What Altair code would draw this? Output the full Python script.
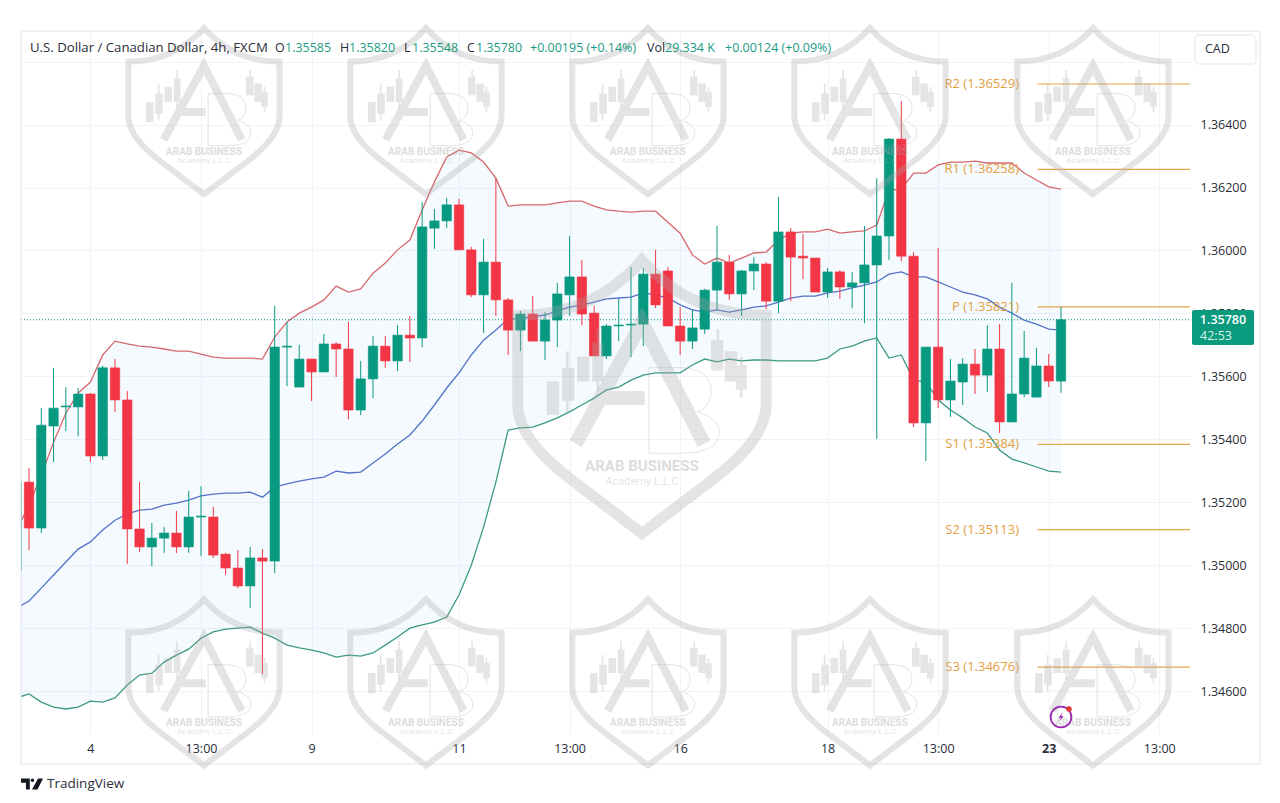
import altair as alt
import pandas as pd

times = list(range(-1, 85))
highs = [1.35264,
1.35309,1.35499,1.35627,1.35566,1.35563,1.35547,1.35633,1.35655,1.35553,1.35264,
1.35134,1.35121,1.35172,1.35236,1.35251,1.35185,1.35039,1.35048,1.35058,1.35051,
1.35824,1.35773,1.35700,1.35655,1.35735,1.35709,1.35773,1.35649,1.35728,1.35728,
1.35763,1.35792,1.36154,1.36132,1.36167,1.36164,1.36011,1.36037,1.36230,1.35849,
1.35808,1.35855,1.35804,1.35897,1.36046,1.35970,1.35824,1.35766,1.35846,1.35947,
1.35944,1.36002,1.35947,1.35820,1.35811,1.35878,1.36078,1.35986,1.35938,1.35979,
1.35963,1.36170,1.36071,1.36052,1.35976,1.35944,1.35938,1.35932,1.36078,1.36230,
1.36357,1.36475,1.35995,1.35693,1.36008,1.35655,1.35658,1.35687,1.35763,1.35766,
1.35897,1.35744,1.35690,1.35671,1.35820]
lows = [1.34984,
1.35048,1.35102,1.35328,1.35426,1.35410,1.35328,1.35334,1.35487,1.35004,1.35042,
1.34997,1.35039,1.35039,1.35039,1.35029,1.35023,1.34969,1.34927,1.34864,1.34654,
1.34975,1.35569,1.35566,1.35522,1.35614,1.35598,1.35464,1.35477,1.35531,1.35627,
1.35617,1.35646,1.35693,1.36005,1.36071,1.36002,1.35852,1.35738,1.35792,1.35668,
1.35680,1.35712,1.35652,1.35693,1.35792,1.35763,1.35665,1.35655,1.35712,1.35661,
1.35696,1.35817,1.35760,1.35668,1.35687,1.35735,1.35811,1.35843,1.35792,1.35874,
1.35814,1.35801,1.35839,1.35909,1.35868,1.35849,1.35846,1.35817,1.35769,1.35401,
1.35970,1.35966,1.35439,1.35331,1.35499,1.35471,1.35509,1.35544,1.35550,1.35420,
1.35455,1.35534,1.35534,1.35566,1.35548]
opens = [1.34984,
1.35264,1.35118,1.35442,1.35503,1.35503,1.35544,1.35347,1.35627,1.35525,1.35115,
1.35058,1.35086,1.35102,1.35058,1.35153,1.35153,1.35035,1.34991,1.34934,1.35023,
1.35013,1.35693,1.35566,1.35655,1.35614,1.35703,1.35687,1.35493,1.35592,1.35696,
1.35649,1.35731,1.35722,1.36071,1.36094,1.36145,1.36002,1.35859,1.35963,1.35843,
1.35747,1.35798,1.35712,1.35779,1.35859,1.35916,1.35801,1.35665,1.35760,1.35763,
1.35766,1.35925,1.35935,1.35760,1.35712,1.35750,1.35874,1.35963,1.35862,1.35935,
1.35957,1.35839,1.36059,1.35982,1.35976,1.35868,1.35932,1.35884,1.35897,1.35954,
1.36046,1.36354,1.35982,1.35452,1.35693,1.35525,1.35582,1.35639,1.35604,1.35687,
1.35455,1.35544,1.35534,1.35633,1.35585]
closes = [1.35264,
1.35118,1.35445,1.35499,1.35506,1.35544,1.35347,1.35627,1.35525,1.35115,1.35058,
1.35086,1.35102,1.35058,1.35153,1.35156,1.35032,1.34991,1.34934,1.35023,1.35013,
1.35693,1.35696,1.35655,1.35614,1.35703,1.35687,1.35493,1.35592,1.35696,1.35649,
1.35731,1.35722,1.36075,1.36094,1.36145,1.36002,1.35859,1.35963,1.35843,1.35747,
1.35798,1.35712,1.35779,1.35862,1.35916,1.35798,1.35665,1.35760,1.35763,1.35766,
1.35925,1.35827,1.35760,1.35712,1.35754,1.35874,1.35963,1.35862,1.35935,1.35957,
1.35839,1.36059,1.35979,1.35976,1.35868,1.35932,1.35884,1.35897,1.35954,1.36046,
1.36354,1.35982,1.35452,1.35693,1.35525,1.35585,1.35639,1.35604,1.35687,1.35455,
1.35544,1.35658,1.35633,1.35585,1.35780]
upper = [1.35112,
1.35191,1.35286,1.35391,1.35483,1.35547,1.35582,1.35668,1.35712,1.35703,1.35696,
1.35693,1.35687,1.35680,1.35680,1.35671,1.35661,1.35658,1.35658,1.35658,1.35655,
1.35725,1.35773,1.35801,1.35820,1.35843,1.35887,1.35868,1.35878,1.35928,1.35960,
1.36002,1.36033,1.36129,1.36218,1.36297,1.36319,1.36310,1.36281,1.36230,1.36141,
1.36145,1.36145,1.36145,1.36151,1.36157,1.36157,1.36141,1.36129,1.36125,1.36122,
1.36125,1.36125,1.36090,1.36055,1.35986,1.35957,1.35976,1.35960,1.35976,1.35992,
1.35995,1.36033,1.36055,1.36059,1.36059,1.36068,1.36055,1.36059,1.36062,1.36081,
1.36192,1.36195,1.36246,1.36246,1.36272,1.36281,1.36281,1.36284,1.36278,1.36278,
1.36278,1.36246,1.36224,1.36202,1.36195]
basis = [1.34864,
1.34886,1.34927,1.34969,1.35010,1.35051,1.35074,1.35112,1.35143,1.35163,1.35175,
1.35178,1.35191,1.35197,1.35207,1.35220,1.35226,1.35229,1.35229,1.35232,1.35216,
1.35248,1.35258,1.35267,1.35274,1.35280,1.35299,1.35293,1.35296,1.35325,1.35353,
1.35385,1.35414,1.35458,1.35509,1.35563,1.35611,1.35668,1.35715,1.35747,1.35782,
1.35785,1.35789,1.35795,1.35808,1.35820,1.35827,1.35836,1.35846,1.35849,1.35852,
1.35865,1.35859,1.35849,1.35827,1.35811,1.35804,1.35811,1.35804,1.35811,1.35820,
1.35824,1.35836,1.35849,1.35855,1.35855,1.35865,1.35871,1.35881,1.35890,1.35900,
1.35925,1.35932,1.35916,1.35916,1.35900,1.35884,1.35868,1.35859,1.35846,1.35820,
1.35801,1.35779,1.35766,1.35750,1.35747]
lower = [1.34578,
1.34591,1.34565,1.34549,1.34543,1.34549,1.34568,1.34565,1.34578,1.34619,1.34651,
1.34657,1.34692,1.34714,1.34733,1.34768,1.34788,1.34797,1.34800,1.34803,1.34784,
1.34768,1.34746,1.34737,1.34730,1.34721,1.34708,1.34714,1.34711,1.34721,1.34746,
1.34772,1.34800,1.34810,1.34819,1.34835,1.34905,1.35000,1.35121,1.35264,1.35429,
1.35436,1.35439,1.35452,1.35468,1.35487,1.35509,1.35531,1.35557,1.35566,1.35588,
1.35604,1.35611,1.35611,1.35611,1.35636,1.35655,1.35646,1.35655,1.35649,1.35652,
1.35652,1.35649,1.35649,1.35649,1.35649,1.35658,1.35687,1.35696,1.35712,1.35722,
1.35658,1.35668,1.35588,1.35582,1.35525,1.35493,1.35468,1.35439,1.35420,1.35366,
1.35337,1.35325,1.35312,1.35299,1.35296]

pivot_names = ["R2", "R1", "P", "S1", "S2", "S3"]
pivot_values = [1.36529, 1.36258, 1.35821, 1.35384, 1.35113, 1.34676]
pivot_from = 82.1
pivot_to = 94.5
pivot_label_at = 80.58
last_price = 1.35780

time_ticks = [5, 14, 23, 35, 44, 53, 65, 74, 83, 92]
time_labels = ["4", "13:00", "9", "11", "13:00", "16", "18", "13:00", "23", "13:00"]
price_ticks = [1.346, 1.348, 1.350, 1.352, 1.354, 1.356, 1.358, 1.360, 1.362, 1.364, 1.366]

header_texts = ["U.S. Dollar / Canadian Dollar, 4h, FXCM", "O", "1.35585", "H", "1.35820", "L",
                "1.35548", "C", "1.35780", "+0.00195 (+0.14%)", "Vol", "29.334 K", "+0.00124 (+0.09%)"]
header_lefts = [30, 275, 285, 340, 349, 404, 412, 467, 476, 530, 647, 665, 725]
header_colors = ["d", "d", "g", "d", "g", "d", "g", "d", "g", "g", "d", "g", "g"]

wm_t = [14.24, 32.31, 50.38, 68.45, 86.60, 14.24, 32.31, 50.38, 68.45, 86.60, 49.89]
wm_p = [1.36440] * 5 + [1.34625] * 5 + [1.35531]
wm_size = [28224] * 10 + [76176]
wm_shield_w = [6] * 10 + [11]
wm_a_w = [8] * 10 + [14]

W, H = 1170, 702
GREEN, RED = "#089981", "#f23645"
ORANGE = "#e5a03f"
FONT = "Open Sans"
DARK = "#2a2e39"

assert all(len(a) == len(times) for a in (highs, lows, opens, closes, upper, basis, lower))

candles = pd.DataFrame({"t": times, "open": opens, "close": closes, "high": highs, "low": lows})
candles["dir"] = ["up" if c >= o else "down" for o, c in zip(opens, closes)]
bands = pd.DataFrame({"t": times, "upper": upper, "basis": basis, "lower": lower})
pivots = pd.DataFrame({"name": pivot_names, "value": pivot_values})
pivots["label"] = [f"{n} ({v:.5f})" for n, v in zip(pivot_names, pivot_values)]
pivots["from"] = pivot_from
pivots["to"] = pivot_to
pivots["at"] = pivot_label_at
wm = pd.DataFrame({"t": wm_t, "p": wm_p, "size": wm_size, "sw": wm_shield_w, "aw": wm_a_w})
one = alt.Data(values=[{"a": 1}])

xs = alt.Scale(domain=[-0.651, 94.58], nice=False, zero=False, padding=0)
ys = alt.Scale(domain=[1.344667, 1.366975], nice=False, zero=False)
label_map = ",".join(f"'{k}':'{v}'" for k, v in zip(time_ticks, time_labels))
x_axis = alt.Axis(
    values=time_ticks, labelExpr="{" + label_map + "}['' + datum.value]",
    grid=True, gridColor="#f0f3fa", domain=False, ticks=False, labelPadding=9,
    labelFont=FONT, labelFontSize=12.5, labelColor=DARK, labelOverlap=False, labelFlush=False,
    labelFontWeight=alt.condition("datum.value == 83", alt.value("bold"), alt.value("normal")))
y_axis = alt.Axis(
    orient="right", values=price_ticks, grid=True, gridColor="#f0f3fa", domain=False, ticks=False,
    labelPadding=9, labelFont=FONT, labelFontSize=12.5, labelColor=DARK, labelOverlap=False,
    labelExpr="datum.value > 1.365 ? '' : format(datum.value, '.5f')")
X = lambda f: alt.X(f, scale=xs, axis=x_axis, title=None)
Y = lambda f: alt.Y(f, scale=ys, axis=y_axis, title=None)

band_fill = alt.Chart(bands).mark_area(color="#2196f3", opacity=0.05, clip=True).encode(
    x=X("t:Q"), y=Y("upper:Q"), y2="lower:Q")
band_lines = [alt.Chart(bands).mark_line(color=c, strokeWidth=1.3, clip=True).encode(x=X("t:Q"), y=Y(f"{f}:Q"))
              for f, c in [("upper", "#d5686e"), ("basis", "#5472c6"), ("lower", "#3d9a80")]]

last_line = alt.Chart(alt.Data(values=[{"p": last_price}])).mark_rule(
    color=GREEN, strokeDash=[1, 2], strokeWidth=1).encode(
    y=Y("p:Q"), x=alt.value(0), x2=alt.value(W))

dir_color = alt.Color("dir:N", scale=alt.Scale(domain=["up", "down"], range=[GREEN, RED]), legend=None)
wicks = alt.Chart(candles).mark_rule(strokeWidth=1, clip=True).encode(
    x=X("t:Q"), y=Y("low:Q"), y2="high:Q", color=dir_color)
bodies = alt.Chart(candles).mark_bar(size=9.4, strokeWidth=0.6, clip=True).encode(
    x=X("t:Q"), y=Y("open:Q"), y2="close:Q", color=dir_color,
    stroke=alt.Stroke("dir:N", scale=alt.Scale(domain=["up", "down"], range=[GREEN, RED]), legend=None))

pivot_rules = alt.Chart(pivots).mark_rule(color="#e3a648", strokeWidth=1.2).encode(
    x=X("from:Q"), x2="to:Q", y=Y("value:Q"))
pivot_text = alt.Chart(pivots).mark_text(
    color=ORANGE, align="right", baseline="middle", font=FONT, fontSize=13, fontWeight=500).encode(
    x=X("at:Q"), y=Y("value:Q"), text="label:N")


def txt(s, x, y, color=DARK, size=12.5, align="left", weight="normal", font=FONT):
    return alt.Chart(one).mark_text(text=s, color=color, fontSize=size, align=align, baseline="middle",
                                    font=font, fontWeight=weight).encode(
        x=alt.value(x - 21), y=alt.value(y - 31))


def box(x1, y1, x2, y2, **kw):
    return alt.Chart(one).mark_rect(**kw).encode(
        x=alt.value(x1 - 21), x2=alt.value(x2 - 21), y=alt.value(y1 - 31), y2=alt.value(y2 - 31))


frame = box(21, 31, 1260, 764, fillOpacity=0, stroke="#e0e3eb", strokeWidth=1)
cad_box = box(1195, 35, 1256, 64, fill="white", stroke="#e0e3eb", strokeWidth=1, cornerRadius=4)
tag = box(1192, 310, 1254, 345, fill="#0a9a7d", cornerRadius=2)

header_sizes = [13.2 if i == 0 else 12.5 for i in range(len(header_texts))]
header = [txt(s, x, 48, color=(DARK if c == "d" else "#1a9c82"), size=z)
          for s, x, c, z in zip(header_texts, header_lefts, header_colors, header_sizes)]

SHIELD = ("M-0.9,-0.6 Q-0.35,-0.6 0,-1 Q0.35,-0.6 0.9,-0.6 L0.9,0.05 Q0.9,0.3 0.5,0.6 "
          "L0,0.98 L-0.5,0.6 Q-0.9,0.3 -0.9,0.05 Z")
LETTER_A = "M-0.48,0.33 L0,-0.55 L0.45,0.33 M-0.28,0 L0.02,0"
LETTER_B = ("M0.05,-0.22 L0.3,-0.22 Q0.52,-0.2 0.5,-0.02 Q0.48,0.08 0.4,0.1 "
            "Q0.6,0.16 0.55,0.3 Q0.5,0.4 0.3,0.4 L0.05,0.4 Z")
MINI = ("M-0.69,-0.12 H-0.6 V0.12 H-0.69 Z M-0.58,-0.22 H-0.49 V0.02 H-0.58 Z "
        "M-0.47,-0.3 H-0.38 V-0.12 H-0.47 Z M-0.36,-0.4 H-0.28 V-0.12 H-0.36 Z "
        "M-0.55,-0.34 H-0.53 V0.1 H-0.55 Z M-0.33,-0.5 H-0.31 V-0.05 H-0.33 Z "
        "M0.5,-0.42 H0.59 V-0.2 H0.5 Z M0.6,-0.34 H0.69 V-0.12 H0.6 Z "
        "M0.68,-0.24 H0.76 V-0.06 H0.68 Z M0.54,-0.5 H0.56 V-0.25 H0.54 Z M0.71,-0.3 H0.73 V0.0 H0.71 Z")
WM_C = "#a8a8a8"
WM_O = 0.3
wm_base = alt.Chart(wm)
wm_enc = dict(x=X("t:Q"), y=Y("p:Q"), size=alt.Size("size:Q", scale=None, legend=None))
small = wm[wm["size"] < 50000]
big = wm[wm["size"] > 50000]
wm_layers = [
    wm_base.mark_point(shape=SHIELD, filled=False, color=WM_C, opacity=WM_O).encode(
        strokeWidth=alt.StrokeWidth("sw:Q", scale=None), **wm_enc),
    wm_base.mark_point(shape=LETTER_A, filled=False, color=WM_C, opacity=WM_O).encode(
        strokeWidth=alt.StrokeWidth("aw:Q", scale=None), **wm_enc),
    wm_base.mark_point(shape=LETTER_B, filled=False, color=WM_C, opacity=WM_O, strokeWidth=1).encode(**wm_enc),
    wm_base.mark_point(shape=MINI, filled=True, color=WM_C, opacity=WM_O).encode(**wm_enc),
    alt.Chart(small).mark_text(
        text="ARAB BUSINESS", color=WM_C, opacity=0.38, fontSize=10, font="Roboto", fontWeight="bold", dy=40
    ).encode(x=X("t:Q"), y=Y("p:Q")),
    alt.Chart(small).mark_text(
        text="Academy L.L.C", color=WM_C, opacity=0.3, fontSize=8, font="Roboto", dy=49
    ).encode(x=X("t:Q"), y=Y("p:Q")),
    alt.Chart(big).mark_text(
        text="ARAB BUSINESS", color=WM_C, opacity=0.38, fontSize=15, font="Roboto", fontWeight="bold", dy=68
    ).encode(x=X("t:Q"), y=Y("p:Q")),
    alt.Chart(big).mark_text(
        text="Academy L.L.C", color=WM_C, opacity=0.3, fontSize=11, font="Roboto", dy=84
    ).encode(x=X("t:Q"), y=Y("p:Q")),
]

BOLT = "M0.3,-0.75 L-0.45,0.12 L-0.02,0.12 L-0.3,0.75 L0.45,-0.12 L0.02,-0.12 Z"
LOGO = ("M-1,-0.5 H-0.2 V0.5 H-0.55 V-0.12 H-1 Z M0.55,-0.5 H1 L0.5,0.5 H0 Z "
        "M-0.12,-0.35 A0.16,0.16 0 1 1 0.2,-0.35 A0.16,0.16 0 1 1 -0.12,-0.35 Z")
icon = [
    alt.Chart(one).mark_point(shape="circle", filled=False, color="#9c27b0", strokeWidth=1.8, opacity=1, size=430).encode(
        x=alt.value(1061 - 21), y=alt.value(717 - 31)),
    alt.Chart(one).mark_point(shape=BOLT, filled=True, color="#9c27b0", opacity=1, size=150).encode(
        x=alt.value(1061 - 21), y=alt.value(717 - 31)),
    alt.Chart(one).mark_point(shape="circle", filled=True, color="#e53935", opacity=1, size=30).encode(
        x=alt.value(1069 - 21), y=alt.value(709 - 31)),
]
logo = alt.Chart(one).mark_point(shape=LOGO, filled=True, color="#131722", opacity=1, size=484).encode(
    x=alt.value(32 - 21), y=alt.value(784 - 31))

layers = [band_fill] + band_lines + [last_line, pivot_rules, wicks, bodies, frame, pivot_text] + wm_layers + [
    cad_box, txt("CAD", 1205, 49, size=12.5), tag,
    txt("1.35780", 1223, 319.5, color="white", size=12.5, align="center", weight=600),
    txt("42:53", 1216, 336, color="#dff3ee", size=12.5, align="center"),
] + header + icon + [logo, txt("TradingView", 47, 784, color="#2a2e39", size=13.5)]

chart = alt.layer(*layers).properties(
    width=W, height=H,
    padding={"left": 13, "top": 23, "right": 79, "bottom": 62},
    autosize=alt.AutoSizeParams(type="none"),
).configure_view(stroke=None)

chart.save("out.html", embed_options={"renderer": "svg", "actions": False})
